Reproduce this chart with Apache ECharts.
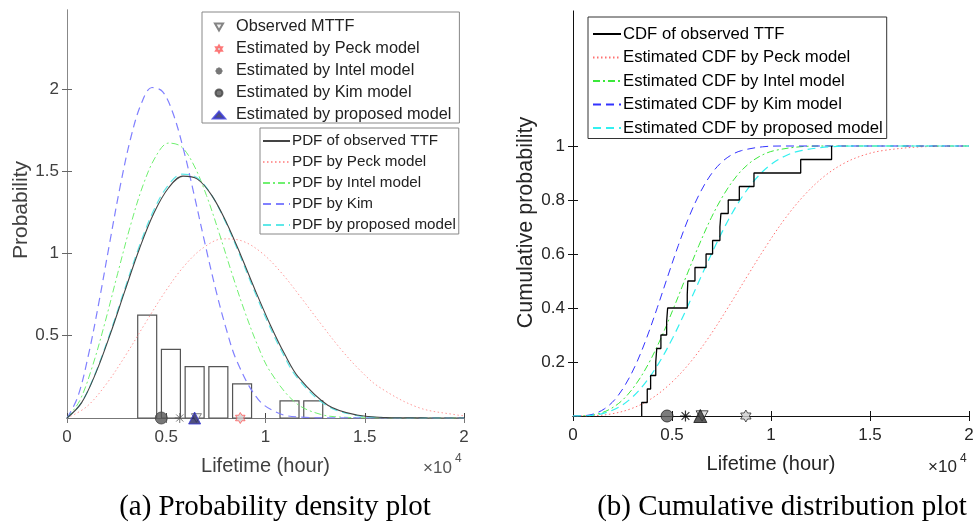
<!DOCTYPE html>
<html><head><meta charset="utf-8">
<script src="https://cdn.jsdelivr.net/npm/echarts@6/dist/echarts.min.js"></script>
<style>html,body{margin:0;padding:0;background:#fff}#c{width:977px;height:527px}</style>
</head><body><div id="c"></div><script>
// ---------- data ----------
const xTickValues = [0, 5000, 10000, 15000, 20000];
const xTickLabels = ['0', '0.5', '1', '1.5', '2'];
const pdfYTicks = [0.5, 1, 1.5, 2];
const cdfYTicks = [0.2, 0.4, 0.6, 0.8, 1];

// histogram of observed TTF (bin centres in hours, bar heights)
const histCenters = [4040, 5235, 6430, 7625, 8820, 10015, 11210, 12405];
const histValues = [0.625, 0.417, 0.3125, 0.3125, 0.208, 0, 0.104, 0.104];

// observed times to failure (hours), sorted
const observedTTF = [3470, 3750, 3920, 4180, 4230, 4440, 4730, 4780, 5770, 5800,
  6160, 6720, 7050, 7420, 7470, 7840, 8400, 9140, 11500, 13060];
const cdfLevels = [0.05, 0.1, 0.15, 0.2, 0.25, 0.3, 0.35, 0.4, 0.45, 0.5,
  0.55, 0.6, 0.65, 0.7, 0.75, 0.8, 0.85, 0.9, 0.95, 1.0];

// MTTF markers (hours)
const mttfObserved = 6520;
const mttfPeck = 8730;
const mttfIntel = 5680;
const mttfKim = 4750;
const mttfProposed = 6430;

// PDF curves (x in hours, y probability)
const pdfObsX = [0, 730, 1460, 2190, 2920, 3650, 4380, 5110, 5840, 6570, 7300, 8030, 8760, 9490, 10220, 10950, 11680, 13140, 14600, 16060, 18250, 20000];
const pdfObsY = [0, 0.092, 0.276, 0.513, 0.774, 1.029, 1.246, 1.398, 1.470, 1.452, 1.352, 1.189, 0.988, 0.774, 0.572, 0.392, 0.245, 0.078, 0.018, 0.003, 0.0003, 0];
const pdfPropX = [0, 724, 1448, 2172, 2896, 3620, 4344, 5068, 5792, 6516, 7240, 7964, 8688, 9412, 10136, 10860, 11584, 13032, 14480, 15928, 18100, 20000];
const pdfPropY = [0, 0.093, 0.278, 0.517, 0.780, 1.037, 1.256, 1.410, 1.482, 1.463, 1.363, 1.198, 0.995, 0.780, 0.576, 0.395, 0.247, 0.079, 0.018, 0.003, 0.0003, 0];
const pdfIntelX = [0, 639, 1278, 1917, 2556, 3195, 3834, 4473, 5112, 5751, 6390, 7029, 7668, 8307, 8946, 9585, 10224, 11502, 12780, 14058, 15975, 20000];
const pdfIntelY = [0, 0.105, 0.313, 0.582, 0.880, 1.169, 1.416, 1.590, 1.671, 1.650, 1.537, 1.352, 1.123, 0.879, 0.650, 0.447, 0.285, 0.094, 0.022, 0.004, 0.0004, 0];
const pdfKimX = [0, 535, 1070, 1605, 2140, 2675, 3210, 3745, 4280, 4815, 5350, 5885, 6420, 6955, 7490, 8025, 8560, 9630, 10700, 11770, 13375, 20000];
const pdfKimY = [0, 0.126, 0.377, 0.701, 1.058, 1.406, 1.702, 1.912, 2.009, 1.984, 1.849, 1.625, 1.349, 1.058, 0.782, 0.540, 0.345, 0.113, 0.027, 0.005, 0.0005, 0];
const pdfPeckX = [0, 983, 1966, 2949, 3932, 4915, 5898, 6881, 7864, 8847, 9830, 10813, 11796, 12779, 13762, 14745, 15728, 17694, 19660, 20000];
const pdfPeckY = [0, 0.068, 0.204, 0.380, 0.574, 0.762, 0.923, 1.036, 1.089, 1.075, 1.002, 0.881, 0.731, 0.574, 0.423, 0.292, 0.188, 0.064, 0.018, 0.014];

// estimated CDF curves
const cdfKimX = [0, 532, 1064, 1596, 2128, 2660, 3192, 3724, 4256, 4788, 5320, 5852, 6384, 6916, 7448, 7980, 8512, 9576, 10640, 20000];
const cdfIntelX = [0, 636, 1272, 1908, 2544, 3180, 3816, 4452, 5088, 5724, 6360, 6996, 7632, 8268, 8904, 9540, 10176, 11448, 12720, 20000];
const cdfPropX = [0, 720, 1440, 2160, 2880, 3600, 4320, 5040, 5760, 6480, 7200, 7920, 8640, 9360, 10080, 10800, 11520, 12960, 14400, 20000];
const cdfPeckX = [0, 978, 1956, 2934, 3912, 4890, 5868, 6846, 7824, 8802, 9780, 10758, 11736, 12714, 13692, 14670, 15648, 17604, 19560, 20000];
const cdfKimY = [0, 0.001, 0.008, 0.027, 0.062, 0.118, 0.194, 0.290, 0.401, 0.518, 0.632, 0.736, 0.822, 0.889, 0.936, 0.966, 0.983, 0.997, 1.0, 1.0];
const cdfIntelY = [0, 0.001, 0.008, 0.027, 0.062, 0.118, 0.194, 0.290, 0.401, 0.518, 0.632, 0.736, 0.822, 0.889, 0.936, 0.966, 0.983, 0.997, 1.0, 1.0];
const cdfPropY = [0, 0.001, 0.008, 0.027, 0.062, 0.118, 0.194, 0.290, 0.401, 0.518, 0.632, 0.736, 0.822, 0.889, 0.936, 0.966, 0.983, 0.997, 1.0, 1.0];
const cdfPeckY = [0, 0.001, 0.008, 0.027, 0.062, 0.118, 0.194, 0.290, 0.401, 0.518, 0.632, 0.736, 0.822, 0.889, 0.936, 0.966, 0.983, 0.997, 0.9997, 1.0];

// ---------- helpers ----------
const zip = (xs, ys) => xs.map((x, i) => [x, ys[i]]);
const HEX = 'path://M0,-10L2.887,-5L8.66,-5L5.774,0L8.66,5L2.887,5L0,10L-2.887,5L-8.66,5L-5.774,0L-8.66,-5L-2.887,-5Z';
const AST = 'path://M0,-10L0,10M-7.07,-7.07L7.07,7.07M-7.07,7.07L7.07,-7.07M-10,0L10,0';
const TRI_DOWN = 'path://M-5,-4.33L5,-4.33L0,4.33Z';
const SANS = 'Liberation Sans, Arial, sans-serif';
const SERIF = 'Liberation Serif, Times New Roman, serif';

// empirical CDF step points
const stepData = [];
observedTTF.forEach((x, i) => stepData.push([x, i === 0 ? 0 : cdfLevels[i - 1]]));
stepData.push([observedTTF[observedTTF.length - 1], cdfLevels[cdfLevels.length - 1]]);

const histBinWidth = 1195;
const histData = histCenters.map((c, i) => [c - histBinWidth * 0.4, c + histBinWidth * 0.4, histValues[i]]);

const leftText = '#404040';
const rightText = '#262626';

function lineSeries(name, axis, xs, ys, color, width, type) {
  return { type: 'line', name, xAxisIndex: axis, yAxisIndex: axis, data: zip(xs, ys),
    smooth: 0.35, symbol: 'none', lineStyle: { color, width, type }, itemStyle: { color } };
}

const option = {
  animation: false,
  backgroundColor: '#fff',
  textStyle: { fontFamily: SANS },
  grid: [
    { left: 67, top: 10, width: 397, height: 408 },
    { left: 573, top: 11, width: 396, height: 405 }
  ],
  xAxis: [
    { gridIndex: 0, type: 'value', min: 0, max: 20000, interval: 5000, position: 'bottom',
      axisLine: { lineStyle: { color: '#444', width: 1 } },
      axisTick: { inside: true, length: 5, lineStyle: { color: '#444' } },
      splitLine: { show: false },
      axisLabel: { formatter: v => xTickLabels[xTickValues.indexOf(v)] ?? '', color: leftText, fontSize: 17, margin: 11, fontFamily: SANS },
      name: 'Lifetime (hour)', nameLocation: 'middle', nameGap: 38,
      nameTextStyle: { fontSize: 20, color: leftText, fontFamily: SANS } },
    { gridIndex: 0, type: 'value', min: 0, max: 20000, interval: 5000, position: 'top',
      axisLine: { lineStyle: { color: '#777' } },
      axisTick: { inside: true, length: 5, lineStyle: { color: '#777' } },
      axisLabel: { show: false }, splitLine: { show: false } },
    { gridIndex: 1, type: 'value', min: 0, max: 20000, interval: 5000, position: 'bottom',
      axisLine: { lineStyle: { color: '#111', width: 1 } },
      axisTick: { inside: true, length: 5, lineStyle: { color: '#111' } },
      splitLine: { show: false },
      axisLabel: { formatter: v => xTickLabels[xTickValues.indexOf(v)] ?? '', color: rightText, fontSize: 17, margin: 11, fontFamily: SANS },
      name: 'Lifetime (hour)', nameLocation: 'middle', nameGap: 38,
      nameTextStyle: { fontSize: 20, color: rightText, fontFamily: SANS } },
    { gridIndex: 1, type: 'value', min: 0, max: 20000, interval: 5000, position: 'top',
      axisLine: { lineStyle: { color: '#111' } },
      axisTick: { inside: true, length: 5, lineStyle: { color: '#111' } },
      axisLabel: { show: false }, splitLine: { show: false } }
  ],
  yAxis: [
    { gridIndex: 0, type: 'value', min: 0, max: 2.48, position: 'left',
      axisLine: { lineStyle: { color: '#888' } },
      axisTick: { inside: true, length: 5, customValues: pdfYTicks, lineStyle: { color: '#666' } },
      axisLabel: { customValues: pdfYTicks, color: leftText, fontSize: 17, margin: 8, fontFamily: SANS },
      splitLine: { show: false },
      name: 'Probability', nameLocation: 'middle', nameGap: 34,
      nameTextStyle: { fontSize: 21, color: leftText, fontFamily: SANS, padding: [0, 0, 0, 8] } },
    { gridIndex: 0, type: 'value', min: 0, max: 2.48, position: 'right',
      axisLine: { lineStyle: { color: '#888' } },
      axisTick: { inside: true, length: 5, customValues: pdfYTicks, lineStyle: { color: '#666' } },
      axisLabel: { show: false }, splitLine: { show: false } },
    { gridIndex: 1, type: 'value', min: 0, max: 1.5, position: 'left',
      axisLine: { lineStyle: { color: '#aaa' } },
      axisTick: { inside: true, length: 5, customValues: cdfYTicks, lineStyle: { color: '#111' } },
      axisLabel: { customValues: cdfYTicks, color: rightText, fontSize: 17, margin: 8, fontFamily: SANS },
      splitLine: { show: false },
      name: 'Cumulative probability', nameLocation: 'middle', nameGap: 35,
      nameTextStyle: { fontSize: 21.5, color: rightText, fontFamily: SANS, padding: [0, 18, 0, 0] } },
    { gridIndex: 1, type: 'value', min: 0, max: 1.5, position: 'right',
      axisLine: { lineStyle: { color: '#111' } },
      axisTick: { inside: true, length: 5, customValues: cdfYTicks, lineStyle: { color: '#111' } },
      axisLabel: { show: false }, splitLine: { show: false } }
  ],
  legend: [
    { orient: 'vertical', left: 202, top: 12, padding: [7, 8, 0, 10],
      backgroundColor: '#fff', borderColor: '#888', borderWidth: 1, borderRadius: 0,
      itemWidth: 12, itemHeight: 7, itemGap: 6, selectedMode: false,
      textStyle: { fontSize: 16.3, lineHeight: 16, color: '#222', fontFamily: SANS, padding: [0, 0, 0, 6] },
      data: ['Observed MTTF', 'Estimated by Peck model', 'Estimated by Intel model', 'Estimated by Kim model', 'Estimated by proposed model'] },
    { orient: 'vertical', left: 260, top: 128, padding: [5, 3, 1, 2],
      backgroundColor: '#fff', borderColor: '#888', borderWidth: 1, borderRadius: 0,
      itemWidth: 27, itemHeight: 0.5, itemGap: 5.0, selectedMode: false,
      textStyle: { fontSize: 15.2, lineHeight: 16, color: '#222', fontFamily: SANS, padding: [0, 0, 0, -3] },
      data: ['PDF of observed TTF', 'PDF by Peck model', 'PDF by Intel model', 'PDF by Kim', 'PDF by proposed model'] },
    { orient: 'vertical', left: 588, top: 17, padding: [8.5, 4, 2, 4],
      backgroundColor: '#fff', borderColor: '#333', borderWidth: 1, borderRadius: 0,
      itemWidth: 28, itemHeight: 0.5, itemGap: 6.5, selectedMode: false,
      textStyle: { fontSize: 16.7, lineHeight: 17, color: '#000', fontFamily: SANS, padding: [0, 0, 0, -3] },
      data: ['CDF of observed TTF', 'Estimated CDF by Peck model', 'Estimated CDF by Intel model', 'Estimated CDF by Kim model', 'Estimated CDF by proposed model'] }
  ],
  graphic: [
    { type: 'text', x: 423, y: 468, style: { text: '×10', fontSize: 17, fill: '#555', fontFamily: SANS, verticalAlign: 'middle' } },
    { type: 'text', x: 455, y: 459, style: { text: '4', fontSize: 12, fill: '#555', fontFamily: SANS, verticalAlign: 'middle' } },
    { type: 'text', x: 928, y: 467, style: { text: '×10', fontSize: 17, fill: rightText, fontFamily: SANS, verticalAlign: 'middle' } },
    { type: 'text', x: 960, y: 459, style: { text: '4', fontSize: 12, fill: rightText, fontFamily: SANS, verticalAlign: 'middle' } },
    { type: 'text', x: 275, y: 507, style: { text: '(a) Probability density plot', fontSize: 29, fill: '#000', fontFamily: SERIF, align: 'center', verticalAlign: 'middle' } },
    { type: 'text', x: 782, y: 507, style: { text: '(b) Cumulative distribution plot', fontSize: 29, fill: '#000', fontFamily: SERIF, align: 'center', verticalAlign: 'middle' } }
  ],
  series: [
    // ----- left: histogram -----
    { type: 'custom', name: 'hist', xAxisIndex: 0, yAxisIndex: 0, data: histData,
      encode: { x: [0, 1], y: 2 }, silent: true,
      renderItem: (params, api) => {
        const h = api.value(2);
        if (!h) return null;
        const p0 = api.coord([api.value(0), 0]);
        const p1 = api.coord([api.value(1), h]);
        return { type: 'rect', shape: { x: p0[0], y: p1[1], width: p1[0] - p0[0], height: p0[1] - p1[1] },
          style: { fill: 'none', stroke: '#555', lineWidth: 1.2 } };
      } },
    // ----- left: PDF curves -----
    lineSeries('PDF by Peck model', 0, pdfPeckX, pdfPeckY, '#ff9a9a', 1, [1.5, 2.5]),
    lineSeries('PDF by Intel model', 0, pdfIntelX, pdfIntelY, '#70f070', 1, [7, 3, 2, 3]),
    lineSeries('PDF by Kim', 0, pdfKimX, pdfKimY, '#8080ff', 1.2, [8, 5]),
    lineSeries('PDF by proposed model', 0, pdfPropX, pdfPropY, '#5fe8e8', 1.2, [8, 5]),
    lineSeries('PDF of observed TTF', 0, pdfObsX, pdfObsY, '#444', 1.1, 'solid'),
    // ----- left: markers -----
    { type: 'scatter', name: 'Observed MTTF', xAxisIndex: 0, yAxisIndex: 0, data: [[mttfObserved, 0]], clip: false,
      symbol: TRI_DOWN, symbolKeepAspect: true, symbolSize: 10, z: 4,
      itemStyle: { color: '#eee', borderColor: '#666', borderWidth: 1 } },
    { type: 'scatter', name: 'Estimated by Peck model', xAxisIndex: 0, yAxisIndex: 0, data: [[mttfPeck, 0]], clip: false,
      symbol: HEX, symbolKeepAspect: true, symbolSize: 11, z: 4,
      itemStyle: { color: '#cfcfcf', borderColor: '#ff5a5a', borderWidth: 1 } },
    { type: 'scatter', name: 'Estimated by Intel model', xAxisIndex: 0, yAxisIndex: 0, data: [[mttfIntel, 0]], clip: false,
      symbol: AST, symbolKeepAspect: true, symbolSize: 10, z: 4,
      itemStyle: { color: 'rgba(0,0,0,0)', borderColor: '#555', borderWidth: 1 } },
    { type: 'scatter', name: 'Estimated by Kim model', xAxisIndex: 0, yAxisIndex: 0, data: [[mttfKim, 0]], clip: false,
      symbol: 'circle', symbolSize: 12, z: 4,
      itemStyle: { color: '#555', borderColor: '#444', borderWidth: 1 } },
    { type: 'scatter', name: 'Estimated by proposed model', xAxisIndex: 0, yAxisIndex: 0, data: [[mttfProposed, 0]], clip: false,
      symbol: 'triangle', symbolSize: 12, z: 5,
      itemStyle: { color: '#23235e', borderColor: '#3838d8', borderWidth: 1 } },
    // ----- right: CDF curves -----
    lineSeries('Estimated CDF by Peck model', 2, cdfPeckX, cdfPeckY, '#ff7070', 1, [1.5, 2.5]),
    lineSeries('Estimated CDF by Intel model', 2, cdfIntelX, cdfIntelY, '#3be83b', 1, [7, 3, 2, 3]),
    lineSeries('Estimated CDF by Kim model', 2, cdfKimX, cdfKimY, '#3333ff', 1, [8, 5]),
    lineSeries('Estimated CDF by proposed model', 2, cdfPropX, cdfPropY, '#33f0f0', 1.2, [8, 5]),
    { type: 'line', name: 'CDF of observed TTF', xAxisIndex: 2, yAxisIndex: 2, data: stepData, step: 'start',
      symbol: 'none', lineStyle: { color: '#000', width: 1.3 }, itemStyle: { color: '#000' } },
    // ----- right: markers -----
    { type: 'scatter', name: 'b-observed', xAxisIndex: 2, yAxisIndex: 2, data: [[mttfObserved, 0]], clip: false,
      symbol: TRI_DOWN, symbolKeepAspect: true, symbolSize: 12, z: 4,
      itemStyle: { color: '#ddd', borderColor: '#222', borderWidth: 1 } },
    { type: 'scatter', name: 'b-peck', xAxisIndex: 2, yAxisIndex: 2, data: [[mttfPeck, 0]], clip: false,
      symbol: HEX, symbolKeepAspect: true, symbolSize: 12, z: 4,
      itemStyle: { color: '#cfcfcf', borderColor: '#333', borderWidth: 1 } },
    { type: 'scatter', name: 'b-intel', xAxisIndex: 2, yAxisIndex: 2, data: [[mttfIntel, 0]], clip: false,
      symbol: AST, symbolKeepAspect: true, symbolSize: 11, z: 4,
      itemStyle: { color: 'rgba(0,0,0,0)', borderColor: '#000', borderWidth: 1.2 } },
    { type: 'scatter', name: 'b-kim', xAxisIndex: 2, yAxisIndex: 2, data: [[mttfKim, 0]], clip: false,
      symbol: 'circle', symbolSize: 12, z: 4,
      itemStyle: { color: '#5a5a5a', borderColor: '#222', borderWidth: 1 } },
    { type: 'scatter', name: 'b-proposed', xAxisIndex: 2, yAxisIndex: 2, data: [[mttfProposed, 0]], clip: false,
      symbol: 'triangle', symbolSize: 13, z: 5,
      itemStyle: { color: '#333', borderColor: '#111', borderWidth: 1 } }
  ]
};

const chart = echarts.init(document.getElementById('c'), null, { renderer: 'canvas' });
chart.setOption(option);
</script></body></html>
